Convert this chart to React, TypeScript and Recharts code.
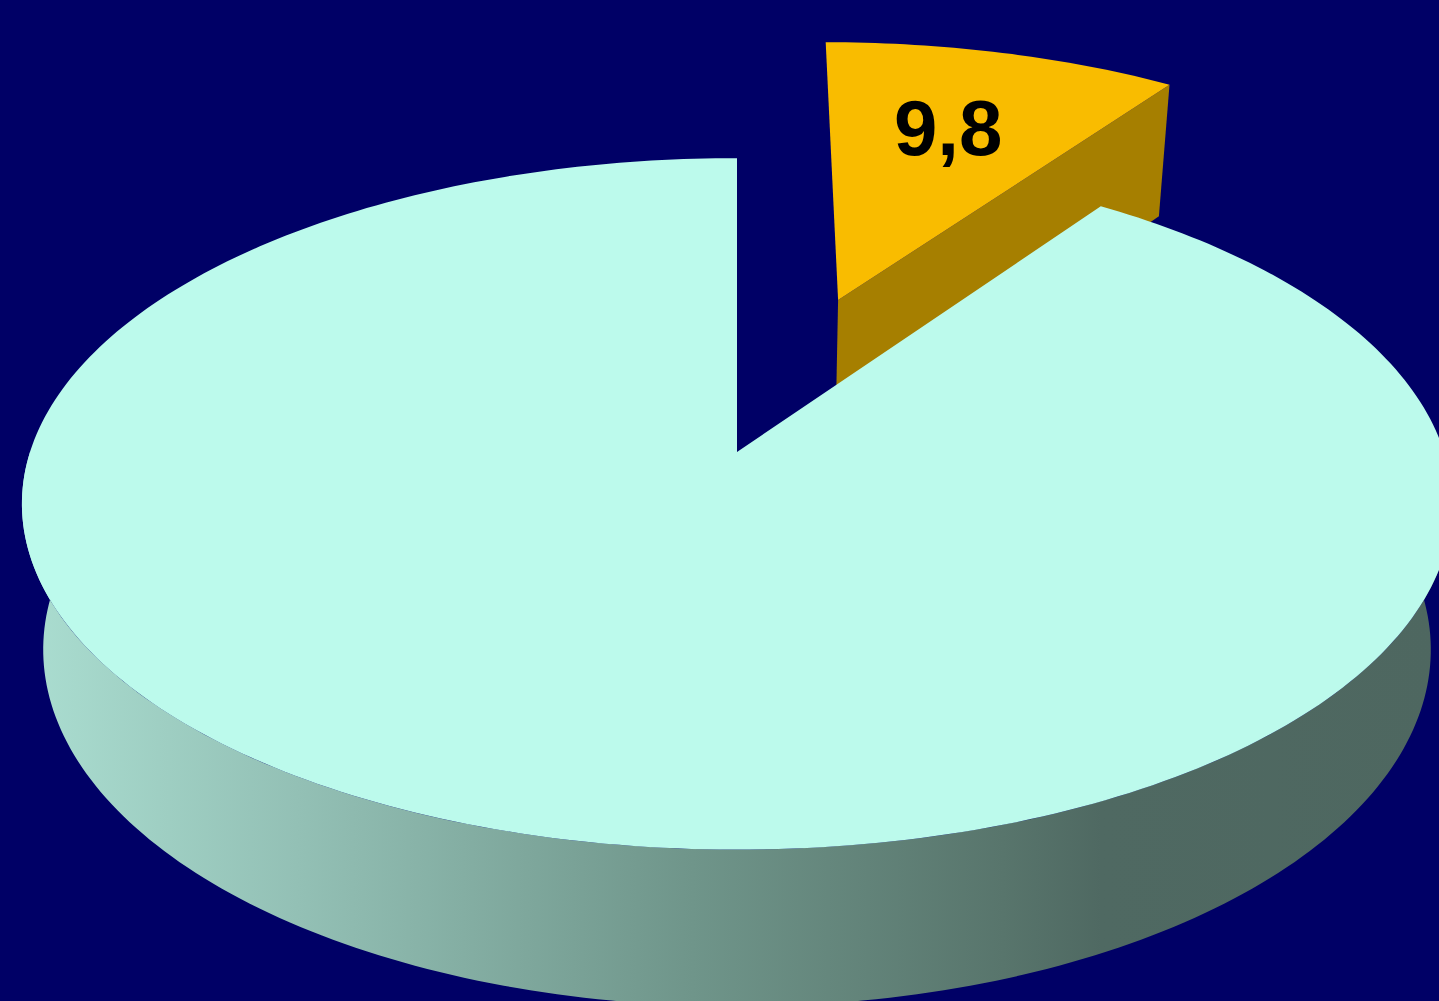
import React from 'react';
import { PieChart, Pie } from 'recharts';

// ---- data ----
const categories = ['Part', 'Reste'];
const values = [9.8, 90.2];
const showLabel = [true, false];

// ---- style ----
const W = 1439;
const H = 1001;
const BG = '#000066';
const topColors = ['#F9BC00', '#BCFAEC'];
const faceColors = ['#A67F00', '#4F6962'];
const explode = [0.506, 0];
const CX = 737;
const CY = 452;
const R = 707;
const TILT = 0.478;
const PERSP = 0.15;
const DEPTH = 150;
const DEPTH_PERSP = 0.03;
const RAD = Math.PI / 180;

const data = categories.map((name, i) => ({ name, value: values[i] }));

function project(cx: number, cy: number, r: number, X: number, Y: number, d: number): [number, number] {
  const w = 1 + PERSP * Y + DEPTH_PERSP * d;
  return [cx + (r * X) / w, cy + (-r * TILT * Y + DEPTH * d) / w];
}

function idxOf(props: any): number {
  const name = props?.payload?.name ?? props?.name;
  const i = categories.indexOf(name);
  return i < 0 ? 0 : i;
}

function Slice3D(props: any) {
  const { cx, cy, outerRadius, startAngle, endAngle } = props;
  const i = idxOf(props);
  const ex = explode[i];
  const hi = Math.max(startAngle, endAngle);
  const lo = Math.min(startAngle, endAngle);
  const mid = ((hi + lo) / 2) * RAD;
  const ox = ex * Math.cos(mid);
  const oy = ex * Math.sin(mid);
  const P = (X: number, Y: number, d: number) => project(cx, cy, outerRadius, X, Y, d);
  const arcPts = (from: number, to: number, d: number) => {
    const n = Math.max(2, Math.ceil(Math.abs(from - to) / 1));
    const pts: [number, number][] = [];
    for (let k = 0; k <= n; k++) {
      const a = (from + ((to - from) * k) / n) * RAD;
      pts.push(P(ox + Math.cos(a), oy + Math.sin(a), d));
    }
    return pts;
  };
  const fmt = (p: [number, number]) => `${p[0].toFixed(2)},${p[1].toFixed(2)}`;

  const elems: React.ReactNode[] = [];

  // outer wall (front half only)
  const wlo = Math.max(lo, -180);
  const whi = Math.min(hi, 0);
  if (whi > wlo) {
    const topArc = arcPts(whi, wlo, 0);
    const botArc = arcPts(wlo, whi, 1);
    const d = 'M' + [...topArc, ...botArc].map(fmt).join(' L') + ' Z';
    elems.push(<path key="wall" d={d} fill={i === 1 ? 'url(#wallGrad)' : faceColors[i]} />);
  }

  // radial faces
  const faces: { a: number; ny: number }[] = [
    { a: hi, ny: Math.cos(hi * RAD) },
    { a: lo, ny: -Math.cos(lo * RAD) },
  ];
  faces.forEach((f, k) => {
    if (f.ny < -0.01) {
      const a = f.a * RAD;
      const pts = [
        P(ox, oy, 0),
        P(ox + Math.cos(a), oy + Math.sin(a), 0),
        P(ox + Math.cos(a), oy + Math.sin(a), 1),
        P(ox, oy, 1),
      ];
      elems.push(<path key={'face' + k} d={'M' + pts.map(fmt).join(' L') + ' Z'} fill={faceColors[i]} />);
    }
  });

  // top face
  const top = [P(ox, oy, 0), ...arcPts(hi, lo, 0)];
  elems.push(<path key="top" d={'M' + top.map(fmt).join(' L') + ' Z'} fill={topColors[i]} />);

  return <g>{elems}</g>;
}

function renderLabel(props: any) {
  const { cx, cy, outerRadius, midAngle, value } = props;
  const i = idxOf(props);
  if (!showLabel[i]) return null;
  const ex = explode[i];
  const m = midAngle * RAD;
  const rho = 0.66;
  const [x, y] = project(cx, cy, outerRadius, (ex + rho) * Math.cos(m), (ex + rho) * Math.sin(m), 0);
  return (
    <text
      x={x - 3}
      y={y + 25}
      textAnchor="middle"
      fontFamily="'Liberation Sans', Arial, sans-serif"
      fontWeight="bold"
      fontSize={78}
      fill="#000000"
    >
      {String(value).replace('.', ',')}
    </text>
  );
}

export default function App() {
  return (
    <div style={{ position: 'absolute', left: 0, top: 0, width: W, height: H, background: BG, overflow: 'hidden' }}>
      <PieChart width={W} height={H} margin={{ top: 0, right: 0, bottom: 0, left: 0 }}>
        <defs>
          <linearGradient id="wallGrad" gradientUnits="userSpaceOnUse" x1={30} y1={0} x2={1440} y2={0}>
            <stop offset="0" stopColor="#AADDD0" />
            <stop offset="0.19" stopColor="#93C0B5" />
            <stop offset="0.47" stopColor="#6F958A" />
            <stop offset="0.69" stopColor="#58756C" />
            <stop offset="0.76" stopColor="#4F6962" />
            <stop offset="1" stopColor="#4E6760" />
          </linearGradient>
        </defs>
        <Pie
          data={data}
          dataKey="value"
          nameKey="name"
          cx={CX}
          cy={CY}
          innerRadius={0}
          outerRadius={R}
          startAngle={90}
          endAngle={-270}
          stroke="none"
          isAnimationActive={false}
          shape={Slice3D}
          label={renderLabel}
          labelLine={false}
        />
      </PieChart>
    </div>
  );
}
